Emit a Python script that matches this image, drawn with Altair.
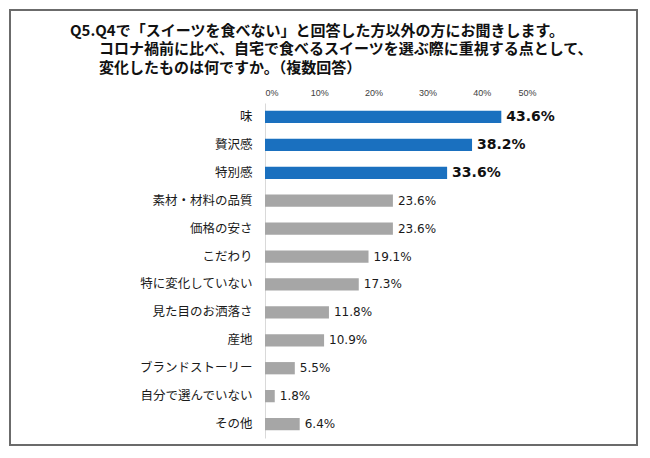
import altair as alt
import pandas as pd

categories = ["味", "贅沢感", "特別感", "素材・材料の品質", "価格の安さ", "こだわり",
              "特に変化していない", "見た目のお洒落さ", "産地", "ブランドストーリー",
              "自分で選んでいない", "その他"]
values = [43.6, 38.2, 33.6, 23.6, 23.6, 19.1, 17.3, 11.8, 10.9, 5.5, 1.8, 6.4]
highlighted = ["味", "贅沢感", "特別感"]
x_ticks = [0, 10, 20, 30, 40, 50]
title_lines = [
    "Q5.Q4で「スイーツを食べない」と回答した方以外の方にお聞きします。",
    "コロナ禍前に比べ、自宅で食べるスイーツを選ぶ際に重視する点として、",
    "変化したものは何ですか。（複数回答）",
]

df = pd.DataFrame({"cat": categories, "val": values})
df["hl"] = df["cat"].isin(highlighted)
df["label"] = df["val"].map(lambda v: f"{v:.1f}%")

W, H = 271, 335
PAD_L, PAD_T, PAD_R, PAD_B = 257, 95, 104, 10

x_enc = alt.X(
    "val:Q",
    scale=alt.Scale(domain=[0, 50], nice=False, zero=True),
    axis=alt.Axis(orient="top", values=x_ticks, labelExpr="datum.value + '%'",
                  title=None, domain=False, ticks=False, grid=False,
                  labelFontSize=9, labelColor="#404040", labelPadding=6,
                  labelFont="Liberation Sans"),
)
y_enc = alt.Y(
    "cat:N", sort=categories,
    scale=alt.Scale(paddingInner=0.56, paddingOuter=0.28),
    axis=alt.Axis(title=None, ticks=False, domainColor="#d9d9d9", domainWidth=1,
                  labelFontSize=12.5, labelColor="#1a1a1a", labelFont="Noto Sans CJK JP",
                  labelPadding=13),
)

base = alt.Chart(df)

bars = base.mark_bar().encode(
    x=x_enc, y=y_enc,
    color=alt.condition("datum.hl", alt.value("#1a70bf"), alt.value("#a6a6a6")),
)

labels_normal = base.transform_filter("!datum.hl").mark_text(
    align="left", baseline="middle", dx=5, font="DejaVu Sans", fontSize=12, color="#1a1a1a"
).encode(x="val:Q", y=alt.Y("cat:N", sort=categories), text="label:N")

labels_bold = base.transform_filter("datum.hl").mark_text(
    align="left", baseline="middle", dx=5, font="DejaVu Sans", fontSize=14,
    fontWeight="bold", color="#111111"
).encode(x="val:Q", y=alt.Y("cat:N", sort=categories), text="label:N")

one = alt.Data(values=[{}])
title_pos = [(-195, -72.5), (-166, -54), (-166, -35.5)]
title_layers = [
    alt.Chart(one).mark_text(
        text=line, align="left", baseline="middle", font="Noto Sans CJK JP",
        fontSize=15, fontWeight="bold", color="#111111"
    ).encode(x=alt.value(px), y=alt.value(py))
    for line, (px, py) in zip(title_lines, title_pos)
]

frame = alt.Chart(one).mark_rect(
    fillOpacity=0, stroke="#6b6b6b", strokeWidth=2
).encode(
    x=alt.value(-255), x2=alt.value(W + PAD_R - 3),
    y=alt.value(-93), y2=alt.value(H + PAD_B - 3),
)

chart = alt.layer(bars, labels_normal, labels_bold, *title_layers, frame).properties(
    width=W, height=H,
    padding={"left": PAD_L, "top": PAD_T, "right": PAD_R, "bottom": PAD_B},
    autosize=alt.AutoSizeParams(type="none"),
    background="white",
).configure_view(stroke=None)

chart.save("out.html", embed_options={"renderer": "svg", "actions": False})
